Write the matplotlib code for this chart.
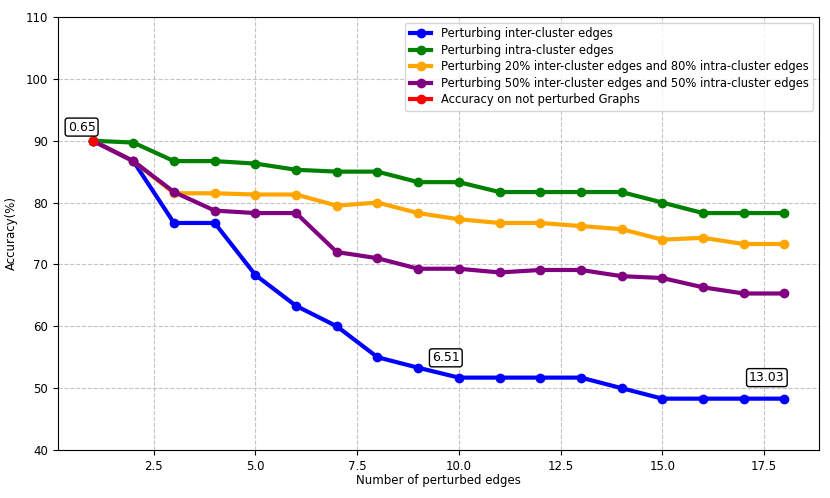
import matplotlib
matplotlib.use("Agg")
import matplotlib.pyplot as plt

x_edges = list(range(1, 19))

acc_inter = [90, 86.7, 76.7, 76.7, 68.3, 63.3, 60, 55, 53.3, 51.7,
             51.7, 51.7, 51.7, 50, 48.3, 48.3, 48.3, 48.3]
acc_intra = [90, 89.7, 86.7, 86.7, 86.3, 85.3, 85, 85, 83.3, 83.3,
             81.7, 81.7, 81.7, 81.7, 80, 78.3, 78.3, 78.3]
acc_20_80 = [90, 86.7, 81.5, 81.5, 81.3, 81.3, 79.5, 80, 78.3, 77.3,
             76.7, 76.7, 76.2, 75.7, 74, 74.3, 73.3, 73.3]
acc_50_50 = [90, 86.7, 81.7, 78.7, 78.3, 78.3, 72, 71, 69.3, 69.3,
             68.7, 69.1, 69.1, 68.1, 67.8, 66.3, 65.3, 65.3]
base_x = [1]
base_acc = [90]

note_labels = ["0.65", "6.51", "13.03"]
note_x = [0.73, 9.68, 17.57]
note_y = [92.2, 54.9, 51.7]

plt.rcParams["font.size"] = 8.5

fig = plt.figure(figsize=(8.3, 4.98), dpi=100)
ax = fig.add_axes([0.0699, 0.0964, 0.9168, 0.8695])
ax.plot(x_edges, acc_inter, marker="o", color="blue", linewidth=3, markersize=6,
        label="Perturbing inter-cluster edges")
ax.plot(x_edges, acc_intra, marker="o", color="green", linewidth=3, markersize=6,
        label="Perturbing intra-cluster edges")
ax.plot(x_edges, acc_20_80, marker="o", color="orange", linewidth=3, markersize=6,
        label="Perturbing 20% inter-cluster edges and 80% intra-cluster edges")
ax.plot(x_edges, acc_50_50, marker="o", color="purple", linewidth=3, markersize=6,
        label="Perturbing 50% inter-cluster edges and 50% intra-cluster edges")
ax.plot(base_x, base_acc, marker="o", color="red", linewidth=3, markersize=6,
        label="Accuracy on not perturbed Graphs")

for lab, xx, yy in zip(note_labels, note_x, note_y):
    ax.text(xx, yy, lab, ha="center", va="center", fontsize=9,
            bbox=dict(boxstyle="round,pad=0.2", fc="white", ec="black"))

ax.set_ylim(40, 110)
ax.set_xlabel("Number of perturbed edges", labelpad=1)
ax.set_ylabel("Accuracy(%)", labelpad=6)
ax.grid(True, linestyle="--", color="#c4c4c4")
ax.legend(loc="upper right", fontsize=8.3, labelspacing=0.3, handlelength=1.9)
fig.savefig("out.png")
